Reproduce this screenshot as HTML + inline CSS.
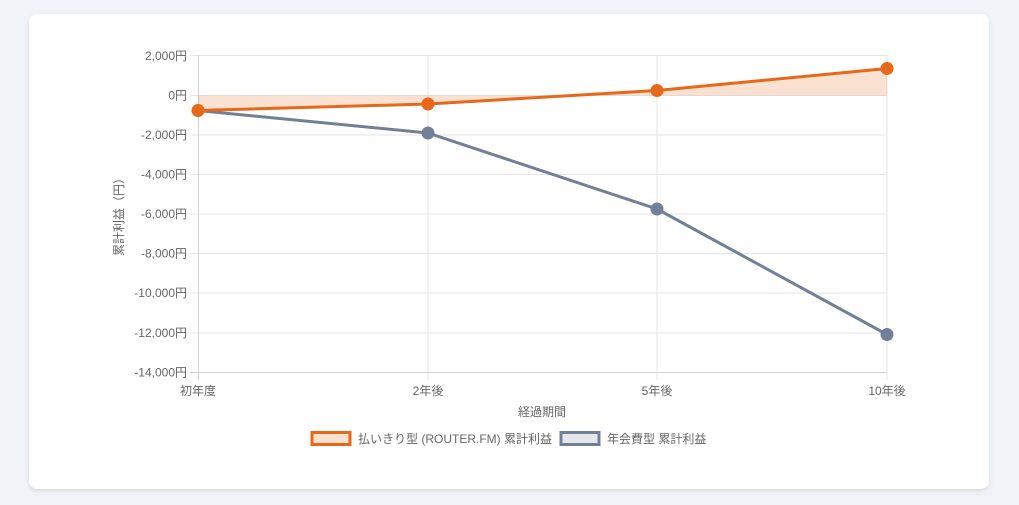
<!DOCTYPE html>
<html><head><meta charset="utf-8">
<style>
html,body{margin:0;padding:0;background:#f0f3f8;width:1019px;height:505px;overflow:hidden;}
.card{position:absolute;left:29px;top:14px;width:960px;height:475px;background:#fff;border-radius:8px;box-shadow:0 2px 6px rgba(0,0,0,0.08),0 1px 2px rgba(0,0,0,0.05);}
svg{position:absolute;left:0;top:0;}
text{font-family:"Liberation Sans","Noto Sans CJK JP",sans-serif;fill:#666;font-size:12px;}
</style></head><body>
<div class="card"></div>
<svg width="1019" height="505" viewBox="0 0 1019 505">
  <g stroke="#e5e5e5" stroke-width="1">
    <line x1="190" y1="55.5" x2="887" y2="55.5"/>
    <line x1="190" y1="95.5" x2="887" y2="95.5"/>
    <line x1="190" y1="135" x2="887" y2="135"/>
    <line x1="190" y1="174.5" x2="887" y2="174.5"/>
    <line x1="190" y1="214" x2="887" y2="214"/>
    <line x1="190" y1="253.5" x2="887" y2="253.5"/>
    <line x1="190" y1="293" x2="887" y2="293"/>
    <line x1="190" y1="333" x2="887" y2="333"/>
    <line x1="428" y1="55" x2="428" y2="380"/>
    <line x1="657" y1="55" x2="657" y2="380"/>
    <line x1="887" y1="55" x2="887" y2="380"/>
  </g>
  <g stroke="#d0d0d0" stroke-width="1">
    <line x1="198.5" y1="55" x2="198.5" y2="380"/>
    <line x1="190" y1="372.5" x2="887" y2="372.5"/>
  </g>
  <polygon points="198,110.5 428,104 657,90.5 887,68.5 887,95.5 198,95.5" fill="rgba(234,104,26,0.2)"/>
  <polyline points="198,110.5 428,133 657,209 887,334.5" fill="none" stroke="#718096" stroke-width="3" stroke-linejoin="round"/>
  <g fill="#718096">
    <circle cx="428" cy="133" r="6.5"/>
    <circle cx="657" cy="209" r="6.5"/>
    <circle cx="887" cy="334.5" r="6.5"/>
  </g>
  <polyline points="198,110.5 428,104 657,90.5 887,68.5" fill="none" stroke="#e8681a" stroke-width="3" stroke-linejoin="round"/>
  <g fill="#e8681a">
    <circle cx="198" cy="110.5" r="6.5"/>
    <circle cx="428" cy="104" r="6.5"/>
    <circle cx="657" cy="90.5" r="6.5"/>
    <circle cx="887" cy="68.5" r="6.5"/>
  </g>
  <g text-anchor="end">
    <text x="187" y="60">2,000円</text>
    <text x="187" y="99.5">0円</text>
    <text x="187" y="139">-2,000円</text>
    <text x="187" y="178.5">-4,000円</text>
    <text x="187" y="218">-6,000円</text>
    <text x="187" y="257.5">-8,000円</text>
    <text x="187" y="297">-10,000円</text>
    <text x="187" y="337">-12,000円</text>
    <text x="187" y="376.5">-14,000円</text>
  </g>
  <g text-anchor="middle">
    <text x="198" y="395">初年度</text>
    <text x="428" y="395">2年後</text>
    <text x="657" y="395">5年後</text>
    <text x="887" y="395">10年後</text>
    <text x="542" y="416">経過期間</text>
  </g>
  <text transform="translate(123,214) rotate(-90)" text-anchor="middle">累計利益（円）</text>
  <rect x="312" y="432.5" width="38" height="12" fill="#fbe1d0" stroke="#e8681a" stroke-width="3"/>
  <text x="358" y="443">払いきり型 (ROUTER.FM) 累計利益</text>
  <rect x="561" y="432.5" width="38" height="12" fill="#e3e6eb" stroke="#718096" stroke-width="3"/>
  <text x="607" y="443">年会費型 累計利益</text>
</svg>
</body></html>
